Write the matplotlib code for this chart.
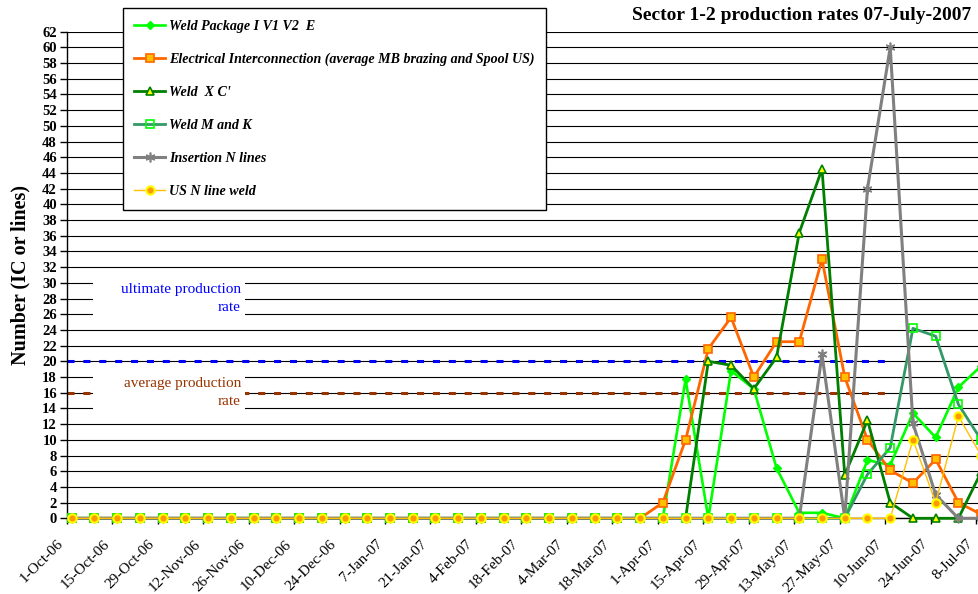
import matplotlib
matplotlib.use("Agg")
import matplotlib.pyplot as plt
import matplotlib.dates as mdates
import matplotlib.transforms as mtransforms
from matplotlib.patches import Rectangle
import pandas as pd

# ---------------- data ----------------
dates = pd.date_range("2006-10-02 13:00", periods=41, freq="7D")

weld_package = [0]*27 + [17.7, 0, 18.8, 16.5, 6.4, 0.7, 0.7, 0, 7.4, 6.8, 13.4, 10.3, 16.7, 19.4]
electrical = [0]*26 + [2.0, 10.0, 21.6, 25.6, 18.0, 22.5, 22.5, 33.0, 18.0, 10.0, 6.1, 4.5, 7.5, 2.0, 0.5]
weld_xc = [0]*28 + [20.0, 19.5, 16.5, 20.5, 36.4, 44.5, 5.5, 12.5, 2.0, 0, 0, 0, 5.9]
weld_mk = [0]*35 + [5.6, 9.0, 24.2, 23.2, 14.5, 10.0]
insertion = [0]*33 + [20.9, 0, 42.0, 60.0, 12.1, 3.0, 0, 0]
us_nline = [0]*37 + [10.0, 2.0, 13.0, 8.0]

ultimate_rate = 20
average_rate = 16

tick_dates = pd.date_range("2006-10-01", "2007-07-08", freq="14D")
tick_labels = [f"{d.day}-{d.strftime('%b')}-{d.strftime('%y')}" for d in tick_dates]

title = "Sector 1-2 production rates 07-July-2007"
ylabel = "Number (IC or lines)"

# ---------------- figure ----------------
plt.rcParams["font.family"] = ["Liberation Serif", "DejaVu Serif"]

fig = plt.figure(figsize=(9.79, 5.94), dpi=100)
W, H = 979, 594
ax_left, ax_right, ax_top, ax_bottom = 66.7, 979, 31.7, 518.3
ax = fig.add_axes([ax_left / W, 1 - ax_bottom / H, (ax_right - ax_left) / W, (ax_bottom - ax_top) / H])

x0 = pd.Timestamp("2006-10-01")
x_end = pd.Timestamp("2007-07-08 21:00")

# rate lines
line_end = mdates.date2num(pd.Timestamp("2007-06-10"))
ax.plot([mdates.date2num(x0), line_end], [ultimate_rate]*2, color="#0000FF", lw=2.2,
        dashes=(2.3, 2.9), zorder=1)
ax.plot([mdates.date2num(x0), line_end], [average_rate]*2, color="#993300", lw=2.2,
        dashes=(2.3, 2.9), zorder=1)

# annotation boxes
trans = mtransforms.blended_transform_factory(ax.transAxes, ax.transData)
fx = lambda px: (px - ax_left) / (ax_right - ax_left)
ax.add_patch(Rectangle((fx(93), 25.5), fx(245) - fx(93), 4.9, transform=trans,
                       facecolor="white", edgecolor="none", zorder=2))
ax.add_patch(Rectangle((fx(93), 13.4), fx(245) - fx(93), 4.9, transform=trans,
                       facecolor="white", edgecolor="none", zorder=2))
ax.text(fx(241), 27.95, "ultimate production\nrate", transform=trans, ha="right", va="center",
        color="#0000FF", fontsize=11, linespacing=1.5, zorder=3)
ax.text(fx(241), 16.0, "average production\nrate", transform=trans, ha="right", va="center",
        color="#993300", fontsize=11, linespacing=1.5, zorder=3)

xd = mdates.date2num(dates)
h1, = ax.plot(xd, weld_package, color="#00FF00", lw=1.9, marker="D", ms=4.5,
              mfc="#00FF00", mec="#00FF00", zorder=4, label="Weld Package I V1 V2  E")
h2, = ax.plot(xd, electrical, color="#FF6600", lw=2.0, marker="s", ms=6,
              mfc="#FFC000", mec="#FF6600", mew=1.2, zorder=5,
              label="Electrical Interconnection (average MB brazing and Spool US)")
h3, = ax.plot(xd, weld_xc, color="#008000", lw=2.0, marker="^", ms=6,
              mfc="#FFFF00", mec="#008000", mew=1.2, zorder=6, label="Weld  X C'")
h4, = ax.plot(xd, weld_mk, color="#339966", lw=2.0, marker="s", ms=6,
              mfc="none", mec="#00FF00", mew=1.2, zorder=7, label="Weld M and K")
h5, = ax.plot(xd, insertion, color="#808080", lw=2.2, marker=(6, 2, 0), ms=7,
              mec="#808080", mew=1.2, zorder=8, label="Insertion N lines")
h6, = ax.plot(xd, us_nline, color="#FFC000", lw=1.0, marker="o", ms=6,
              mfc="#FF9900", mec="#FFFF00", mew=1.5, zorder=9, label="US N line weld")
for h in (h1, h2, h3, h4, h5, h6):
    h.set_clip_on(False)

ax.yaxis.grid(True, color="black", linewidth=0.8, zorder=0)
ax.set_axisbelow(True)
for s in ["top", "right"]:
    ax.spines[s].set_visible(False)
ax.spines["left"].set_linewidth(1.0)
ax.spines["bottom"].set_linewidth(1.0)
ax.tick_params(axis="y", length=5, width=1, pad=2)
ax.tick_params(axis="x", length=4, width=1, pad=13)

ax.set_yticks(range(0, 63, 2))
ax.set_xticks(mdates.date2num(tick_dates))
ax.set_xticklabels(tick_labels, rotation=45, ha="right", va="center",
                   rotation_mode="anchor", fontsize=11)
ax.set_xlim(mdates.date2num(x0), mdates.date2num(x_end))
ax.set_ylim(0, 62)
for lab in ax.get_yticklabels():
    lab.set_fontweight("bold")
    lab.set_fontsize(10.5)
shift = mtransforms.ScaledTranslation(-5 / 100, 0, fig.dpi_scale_trans)
for lab in ax.get_xticklabels():
    lab.set_transform(lab.get_transform() + shift)

ax.set_ylabel(ylabel, fontsize=14.5, fontweight="bold")
ax.yaxis.set_label_coords(-0.040, 0.5)

fig.text(971.7 / W, 1 - 20 / H, title, ha="right", va="baseline", fontsize=14, fontweight="bold")

leg = fig.legend(handles=[h1, h2, h3, h4, h5, h6], loc="upper left",
                 bbox_to_anchor=(123 / W, 1 - 8.3 / H, (545.7 - 123) / W, 0.0),
                 mode="expand", borderaxespad=0, fancybox=False, framealpha=1,
                 edgecolor="black", handlelength=2.2, handletextpad=0.3,
                 labelspacing=1.43, borderpad=0.8,
                 prop={"family": ["Liberation Serif"], "style": "italic", "weight": "bold", "size": 10.1})
leg.get_frame().set_linewidth(1.0)
leg.set_zorder(20)

fig.savefig("out.png", dpi=100)
